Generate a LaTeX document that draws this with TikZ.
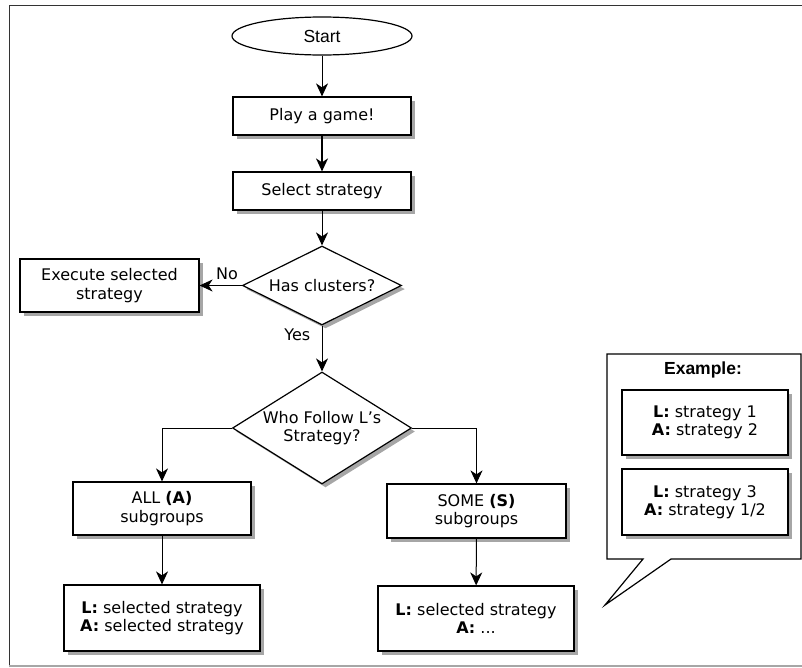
\documentclass[tikz,border=0pt]{standalone}
\usepackage{fontspec}
\setmainfont{DejaVu Sans}
\newfontfamily\arialfont{Liberation Sans}
\usetikzlibrary{arrows.meta}
\usetikzlibrary{shapes.geometric}
\usetikzlibrary{shadows}
\begin{document}
\begin{tikzpicture}[x=1pt,y=-1pt,
	every node/.style={font=\fontsize{16}{18.5}\selectfont},
	box/.style={draw,line width=1.2pt,fill=white,align=center,inner sep=0pt,
		drop shadow={shadow xshift=3.5pt,shadow yshift=-3.5pt,fill=black!35,opacity=1}},
	decision/.style={box,diamond,aspect=1.6},
	flow/.style={line width=1pt,-{Stealth[length=13pt,width=12pt,inset=4pt]}}]
	\useasboundingbox (0,0) rectangle (802,667);
	\draw[black!80,line width=1pt] (9,667) -- (9,5) -- (802,5);
	\draw[black!35,line width=1.3pt] (9,666) -- (802,666);

	\node[draw,line width=1.2pt,ellipse,minimum width=180pt,minimum height=38pt,
		font=\arialfont\fontsize{17.5}{20}\selectfont] (start) at (322,36) {Start};
	\node[box,minimum width=178pt,minimum height=38pt] (play) at (322,116) {Play a game!};
	\node[box,minimum width=178pt,minimum height=38pt] (select) at (322,191) {Select strategy};
	\node[decision,minimum width=159pt,minimum height=77pt] (clusters) at (322,285.5) {Has clusters?};
	\node[box,minimum width=179pt,minimum height=53pt] (execute) at (109.5,285.5) {Execute selected\\strategy};
	\node[decision,minimum width=179pt,minimum height=112pt] (follow) at (322,428) {Who Follow L’s\\Strategy?};
	\node[box,minimum width=178pt,minimum height=53pt] (all) at (162,508.5) {ALL \textbf{(A)}\\subgroups};
	\node[box,minimum width=196pt,minimum height=66pt] (allres) at (162,618) {\textbf{L:} selected strategy\\\textbf{A:} selected strategy};
	\node[box,minimum width=179pt,minimum height=54pt] (some) at (476.5,511) {SOME \textbf{(S)}\\subgroups};
	\node[box,minimum width=196pt,minimum height=65pt] (someres) at (476,618.5) {\textbf{L:} selected strategy\\\textbf{A:} ...};

	\draw[flow] (start) -- (play);
	\draw[flow,line width=1.6pt] (play) -- (select);
	\draw[flow] (select) -- (clusters);
	\draw[flow] (clusters.west) -- node[pos=0.35,above=2pt] {No} (execute.east);
	\draw[flow] (clusters.south) -- node[pos=0.2,left=8pt] {Yes} (follow.north);
	\draw[flow] (follow.west) -| (all.north);
	\draw[flow] (follow.east) -| (some.north);
	\draw[flow] (all) -- (allres);
	\draw[flow] (some) -- (someres);

	% example callout
	\draw[line width=1.2pt,fill=white] (607,354) -- (801,354) -- (801,559) -- (671,559)
		-- (605,605) -- (643,559) -- (607,559) -- cycle;
	\node[font=\arialfont\bfseries\fontsize{17.5}{20}\selectfont] (example) at (703,370) {Example:};
	\node[box,minimum width=166pt,minimum height=65pt] (ex1) at (705,422.5) {\textbf{L:} strategy 1\\\textbf{A:} strategy 2};
	\node[box,minimum width=166pt,minimum height=66pt] (ex2) at (705,502) {\textbf{L:} strategy 3\\\textbf{A:} strategy 1/2};
\end{tikzpicture}
\end{document}
